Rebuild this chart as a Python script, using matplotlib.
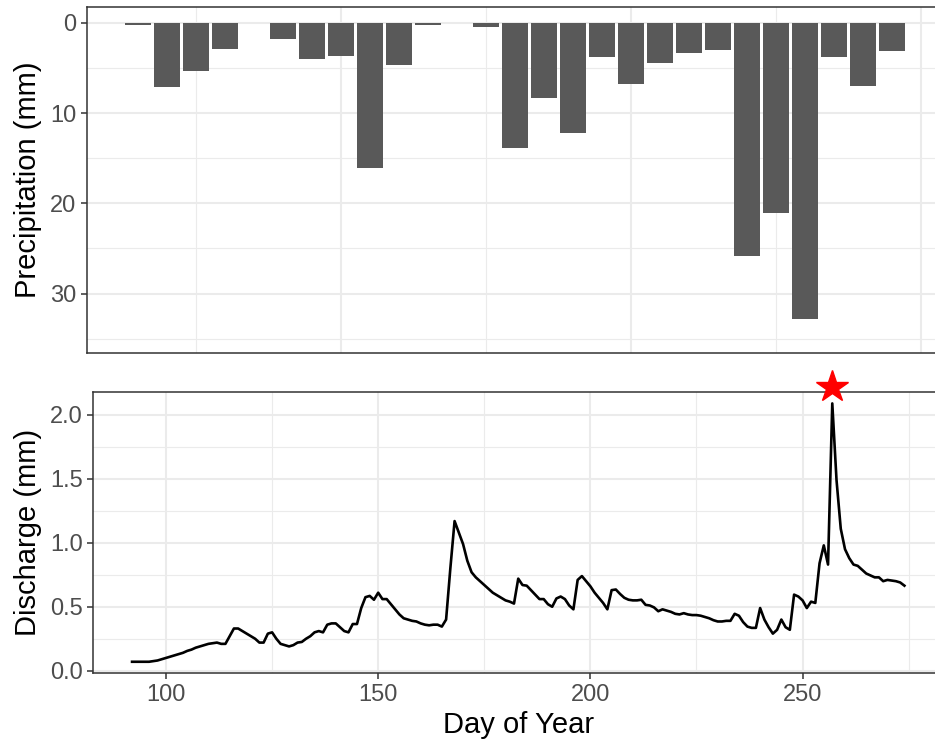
import matplotlib
matplotlib.use("Agg")
import matplotlib.pyplot as plt
import numpy as np

plt.rcParams['font.family'] = ['Liberation Sans', 'DejaVu Sans']

# weekly precipitation totals (mm), by week of year
weeks = [13, 14, 15, 16, 18, 19, 20, 21, 22, 23, 25, 26,
         27, 28, 29, 30, 31, 32, 33, 34, 35, 36, 37, 38, 39]
precip = [0.3, 7.1, 5.3, 2.9, 1.8, 4.0, 3.7, 16.1, 4.7, 0.3, 0.45, 13.9,
          8.3, 12.2, 3.8, 6.8, 4.5, 3.35, 3.0, 25.8, 21.1, 32.8, 3.8, 7.0, 3.1]

# daily discharge (mm), day of year 92-274
days = list(range(92, 275))
discharge = [
    0.07, 0.07, 0.07, 0.07, 0.07, 0.075, 0.08, 0.09,            # 92-99
    0.10, 0.11, 0.12, 0.13, 0.14, 0.155, 0.165, 0.18, 0.19, 0.20,  # 100-109
    0.21, 0.215, 0.22, 0.21, 0.21, 0.27, 0.33, 0.33, 0.31, 0.29,   # 110-119
    0.27, 0.25, 0.22, 0.22, 0.29, 0.30, 0.25, 0.21, 0.20, 0.19,    # 120-129
    0.20, 0.22, 0.225, 0.25, 0.27, 0.30, 0.31, 0.30, 0.36, 0.37,   # 130-139
    0.37, 0.34, 0.31, 0.30, 0.365, 0.365, 0.49, 0.575, 0.585, 0.555,  # 140-149
    0.61, 0.56, 0.56, 0.52, 0.48, 0.44, 0.41, 0.40, 0.39, 0.385,   # 150-159
    0.37, 0.36, 0.355, 0.36, 0.36, 0.345, 0.40, 0.80, 1.17, 1.08,  # 160-169
    0.99, 0.86, 0.77, 0.73, 0.70, 0.67, 0.64, 0.61, 0.59, 0.57,    # 170-179
    0.55, 0.54, 0.525, 0.72, 0.67, 0.665, 0.63, 0.595, 0.56, 0.56, # 180-189
    0.52, 0.50, 0.565, 0.58, 0.56, 0.51, 0.48, 0.71, 0.74, 0.70,   # 190-199
    0.66, 0.61, 0.57, 0.53, 0.48, 0.63, 0.635, 0.60, 0.57, 0.555,  # 200-209
    0.55, 0.55, 0.555, 0.515, 0.51, 0.495, 0.465, 0.48, 0.47, 0.46,  # 210-219
    0.445, 0.44, 0.45, 0.44, 0.435, 0.435, 0.43, 0.42, 0.41, 0.395,  # 220-229
    0.385, 0.385, 0.39, 0.39, 0.445, 0.43, 0.38, 0.345, 0.335, 0.335,  # 230-239
    0.49, 0.40, 0.34, 0.29, 0.32, 0.40, 0.34, 0.32, 0.595, 0.58,   # 240-249
    0.55, 0.49, 0.54, 0.53, 0.84, 0.98, 0.83, 2.09, 1.49, 1.11,    # 250-259
    0.95, 0.88, 0.83, 0.82, 0.79, 0.76, 0.745, 0.73, 0.73, 0.70,   # 260-269
    0.71, 0.705, 0.70, 0.69, 0.665,                                # 270-274
]

peak_day = 257
star_y = 2.22

grid_major = dict(color="#EBEBEB", linewidth=1.5)
grid_minor = dict(color="#EBEBEB", linewidth=0.8)
tick_size = 17
title_size = 21


def style_axes(ax):
    for s in ax.spines.values():
        s.set_color("#333333")
        s.set_linewidth(1.1)
    ax.tick_params(colors="#333333", labelcolor="#4D4D4D", labelsize=tick_size,
                   length=4, width=1.1)
    ax.tick_params(which="minor", length=0)
    ax.grid(True, which="major", **grid_major)
    ax.grid(True, which="minor", **grid_minor)
    ax.set_axisbelow(True)


fig = plt.figure(figsize=(9.35, 7.48), dpi=100)

# precipitation, drawn hanging down from zero
ax1 = fig.add_axes([0.093, 0.528, 0.917, 0.4626])
ax1.bar(weeks, precip, width=0.9, color="#595959", edgecolor="none", zorder=2)
ax1.set_xlim(11.24, 40.79)
ax1.set_ylim(36.58, -1.74)
ax1.set_yticks([0, 10, 20, 30])
ax1.set_yticks([5, 15, 25, 35], minor=True)
ax1.set_xticks([20, 30, 40])
ax1.set_xticks([15, 25, 35], minor=True)
style_axes(ax1)
ax1.tick_params(axis="x", which="both", length=0, labelbottom=False)
ax1.spines["right"].set_visible(False)
ax1.set_ylabel("Precipitation (mm)", fontsize=title_size, labelpad=6)

# discharge
ax2 = fig.add_axes([0.0998, 0.0999, 0.9088, 0.3765])
ax2.plot(days, discharge, color="black", linewidth=1.9, zorder=3)
ax2.plot([peak_day], [star_y], marker="*", color="red", markersize=24,
         linestyle="none", clip_on=False, zorder=4)
ax2.set_xlim(82.87, 283.1)
ax2.set_ylim(-0.02, 2.182)
ax2.set_xticks([100, 150, 200, 250])
ax2.set_xticks([125, 175, 225, 275], minor=True)
ax2.set_yticks([0, 0.5, 1.0, 1.5, 2.0])
ax2.set_yticks([0.25, 0.75, 1.25, 1.75], minor=True)
ax2.set_yticklabels(["0.0", "0.5", "1.0", "1.5", "2.0"])
style_axes(ax2)
ax2.spines["right"].set_visible(False)
ax2.set_ylabel("Discharge (mm)", fontsize=title_size, labelpad=6)
ax2.set_xlabel("Day of Year", fontsize=title_size, labelpad=4)

fig.savefig("out.png", dpi=100)
